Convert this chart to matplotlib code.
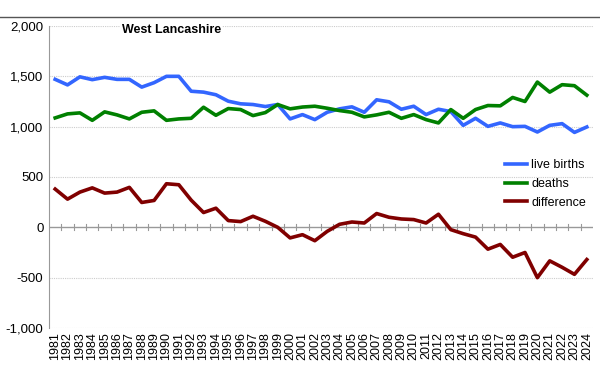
import matplotlib.pyplot as plt
from matplotlib.ticker import FuncFormatter, MultipleLocator
from matplotlib.lines import Line2D

plt.rcParams['font.family'] = ['Liberation Sans', 'DejaVu Sans']

years = list(range(1981, 2025))
live_births = [1470, 1415, 1495, 1467, 1490, 1470, 1470, 1393, 1437, 1500,
               1500, 1352, 1343, 1317, 1253, 1227, 1220, 1200, 1220, 1077,
               1120, 1070, 1143, 1177, 1197, 1143, 1267, 1247, 1173, 1203,
               1120, 1173, 1150, 1013, 1083, 1003, 1037, 1000, 1003, 947,
               1013, 1030, 943, 997]
deaths = [1087, 1127, 1137, 1063, 1147, 1117, 1077, 1143, 1157, 1063,
          1077, 1083, 1193, 1113, 1180, 1170, 1110, 1140, 1220, 1177,
          1195, 1203, 1183, 1160, 1143, 1097, 1117, 1143, 1083, 1120,
          1070, 1037, 1170, 1083, 1170, 1210, 1207, 1290, 1250, 1443,
          1343, 1417, 1407, 1313]
difference = [380, 280, 350, 392, 340, 350, 397, 247, 267, 433,
              423, 270, 147, 190, 67, 57, 110, 60, 0, -105,
              -73, -133, -40, 30, 53, 43, 137, 100, 83, 77,
              43, 130, -23, -63, -97, -217, -170, -297, -250, -500,
              -333, -397, -467, -320]

fig = plt.figure(figsize=(6, 3.85), dpi=100)
ax = fig.add_axes([49 / 600, 1 - 328 / 385, 544 / 600, 302 / 385])

ax.plot(years, live_births, color='#3366ff', lw=2.6, label='live births')
ax.plot(years, deaths, color='#008000', lw=2.6, label='deaths')
ax.plot(years, difference, color='#800000', lw=2.6, label='difference')

ax.set_xlim(1980.5, 2024.5)
ax.set_ylim(-1000, 2000)
ax.yaxis.set_major_locator(MultipleLocator(500))
ax.yaxis.set_major_formatter(FuncFormatter(lambda v, p: f'{v:,.0f}'))
ax.tick_params(axis='y', length=0, labelsize=9.5, pad=4)

# year labels at bottom, tick marks on the zero line between categories
ax.set_xticks(years)
ax.set_xticklabels([str(y) for y in years], rotation=90, fontsize=9)
ax.tick_params(axis='x', length=0, pad=3)
for y in years[:-1]:
    ax.plot([y + 0.5, y + 0.5], [-30, 30], color='#999999', lw=0.8, zorder=1)
ax.axhline(0, color='#999999', lw=1, zorder=1)

for v in [-1000, -500, 500, 1000, 1500, 2000]:
    ax.axhline(v, color='#cccccc', lw=0.8, ls=(0, (1, 1)), zorder=0)

for s in ['top', 'right', 'bottom']:
    ax.spines[s].set_visible(False)
ax.spines['left'].set_color('#999999')

ax.text(0.225, 0.987, 'West Lancashire', transform=ax.transAxes,
        ha='center', va='center', fontsize=9, fontweight='bold',
        bbox=dict(facecolor='white', edgecolor='none', pad=1))

ax.legend(loc='upper left', bbox_to_anchor=(0.829, 0.576), frameon=False,
          fontsize=9, handlelength=1.8, handletextpad=0.3, labelspacing=0.55,
          borderaxespad=0)

fig.add_artist(Line2D([0, 1], [1 - 17 / 385, 1 - 17 / 385], color='#555555', lw=1))

fig.savefig('out.png', dpi=100)
